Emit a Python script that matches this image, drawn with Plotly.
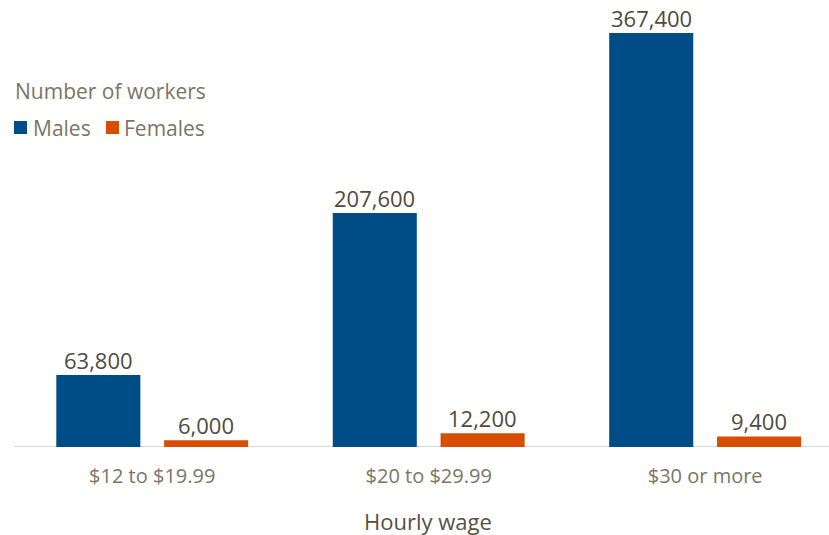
import plotly.graph_objects as go

# Hourly wage bands and worker counts by sex
wage_bands = ["$12 to $19.99", "$20 to $29.99", "$30 or more"]
males = [63800, 207600, 367400]
females = [6000, 12200, 9400]
series_names = ["Males", "Females"]
legend_title = "Number of workers"
axis_title = "Hourly wage"

BLUE = "#004c86"
ORANGE = "#d84e00"
LABEL_COLOR = "#4f4b3e"
MUTED = "#7b7565"
FONT = "Open Sans"

W, H = 829, 535
BOTTOM = 88
PLOT_H = H - BOTTOM
BAR_W = 0.304

fig = go.Figure()
for name, vals, color, off in [(series_names[0], males, BLUE, -0.347),
                               (series_names[1], females, ORANGE, 0.043)]:
    fig.add_trace(go.Bar(
        x=wage_bands, y=vals, name=name,
        marker=dict(color=color, line=dict(width=0)),
        width=BAR_W, offset=off, showlegend=False,
    ))
    # Value labels sitting just above each bar
    for i, v in enumerate(vals):
        fig.add_annotation(
            x=i + off + BAR_W / 2, y=v, xref="x", yref="y",
            text=f"{v:,}", showarrow=False,
            xanchor="center", yanchor="bottom", yshift=-2,
            font=dict(family=FONT, size=22, color=LABEL_COLOR),
        )


# Convert pixel positions to paper coordinates of the plot area
def px(x):
    return x / W


def py(y):
    return 1 - y / PLOT_H


# Legend drawn as swatches + labels in the upper-left corner
fig.add_annotation(text=legend_title, xref="paper", yref="paper",
                   x=px(13), y=py(91), xanchor="left", yanchor="middle",
                   showarrow=False,
                   font=dict(family=FONT, size=21, color=MUTED))
swatches = [(14, 27, BLUE, 31, series_names[0]),
            (106, 119, ORANGE, 122, series_names[1])]
for x0, x1, col, tx, label in swatches:
    fig.add_shape(type="rect", xref="paper", yref="paper",
                  x0=px(x0), x1=px(x1), y0=py(134), y1=py(121),
                  fillcolor=col, line=dict(width=0))
    fig.add_annotation(text=label, xref="paper", yref="paper",
                       x=px(tx), y=py(128), xanchor="left", yanchor="middle",
                       showarrow=False,
                       font=dict(family=FONT, size=21, color=MUTED))

# Axis title centred under the middle group
fig.add_annotation(text=axis_title, xref="paper", yref="paper",
                   x=px(428), y=py(521), xanchor="center", yanchor="middle",
                   showarrow=False,
                   font=dict(family=FONT, size=22, color="#555143"))

fig.update_layout(
    width=W, height=H,
    margin=dict(l=0, r=0, t=0, b=BOTTOM),
    barmode="overlay",
    plot_bgcolor="white", paper_bgcolor="white",
    font=dict(family=FONT, color=MUTED, size=20),
    showlegend=False,
    xaxis=dict(
        type="category", range=[-0.5 - 14 / 276.5, 2.448],
        showline=False, showgrid=False, ticks="",
        ticklabelstandoff=15,
        tickfont=dict(family=FONT, size=20, color=MUTED),
    ),
    yaxis=dict(range=[0, 396700], visible=False, showgrid=False,
               zeroline=False),
)

# Baseline rule from the left edge of the bar area to the right edge
fig.add_shape(type="line", xref="paper", yref="y",
              x0=px(14), x1=1, y0=0, y1=0,
              line=dict(color="#d9d9d9", width=2), layer="below")

fig.write_html("out.html")
